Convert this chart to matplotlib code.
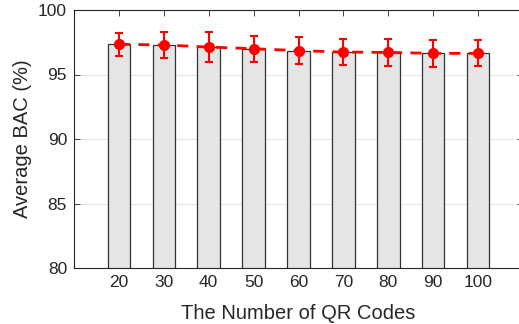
import matplotlib.pyplot as plt
import numpy as np

plt.rcParams["font.family"] = ["Liberation Sans", "DejaVu Sans"]

qr_counts = [20, 30, 40, 50, 60, 70, 80, 90, 100]
avg_bac = [97.34, 97.29, 97.13, 97.00, 96.85, 96.74, 96.71, 96.64, 96.64]
bac_err = [0.88, 1.0, 1.14, 1.0, 1.07, 1.03, 1.07, 1.02, 1.0]

fig = plt.figure(figsize=(5.19, 3.24), dpi=100)
ax = fig.add_axes([74 / 519, 1 - 268 / 324, (523 - 74) / 519, (268 - 10) / 324])

ax.bar(qr_counts, avg_bac, width=5, color="#e5e5e5", edgecolor="#333333",
       linewidth=0.9, zorder=2)
ax.errorbar(qr_counts, avg_bac, yerr=bac_err, color="#ff0000", linestyle="--",
            linewidth=2.0, dashes=(4, 3), marker="o", markersize=7, capsize=3,
            elinewidth=1.5, capthick=1.5, zorder=3)

ax.set_xlim(10, 110)
ax.set_ylim(80, 100)
ax.set_xticks(qr_counts)
ax.set_yticks([80, 85, 90, 95, 100])
ax.yaxis.grid(True, color="#e6e6e6", linewidth=0.8, zorder=0)
ax.set_axisbelow(True)

ax.tick_params(direction="in", top=True, right=True, labelsize=12.5,
               colors="#262626", length=4, width=0.6, pad=5)
for spine in ax.spines.values():
    spine.set_color("#262626")
    spine.set_linewidth(0.8)

ax.set_xlabel("The Number of QR Codes", fontsize=14.5, color="#262626", labelpad=10)
ax.set_ylabel("Average BAC (%)", fontsize=14.5, color="#262626", labelpad=4)

fig.savefig("out.png", dpi=100)
